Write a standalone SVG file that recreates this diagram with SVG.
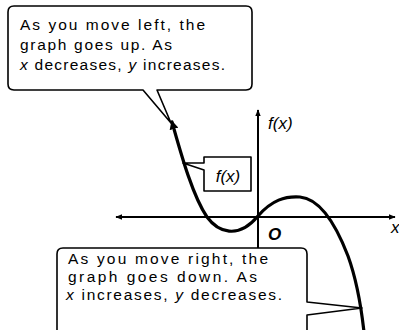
<svg xmlns="http://www.w3.org/2000/svg" width="399" height="330" viewBox="0 0 399 330">
<defs>
<marker id="arr" viewBox="0 0 10 10" refX="9" refY="5" markerWidth="7" markerHeight="7" markerUnits="userSpaceOnUse" orient="auto-start-reverse">
<path d="M0,1 L10,5 L0,9 Z" fill="#000"/>
</marker>
<marker id="arrc" viewBox="0 0 10 10" refX="8" refY="5" markerWidth="9" markerHeight="9" markerUnits="userSpaceOnUse" orient="auto-start-reverse">
<path d="M0,0 L10,5 L0,10 Z" fill="#000"/>
</marker>
<style>
.ax{stroke:#000;stroke-width:2;fill:none}
.box{stroke:#000;stroke-width:1.6;fill:#fff;stroke-linejoin:round}
.crv{stroke:#000;stroke-width:3.2;fill:none;stroke-linecap:round}
.t{font-family:"Liberation Sans","DejaVu Sans",sans-serif;font-size:15.5px;fill:#000}
.i{font-style:italic}
.lbl{font-family:"Liberation Sans","DejaVu Sans",sans-serif;font-style:italic;font-size:17px;fill:#000}
</style>
</defs>
<g id="axes">
<line class="ax" x1="116" y1="217" x2="395" y2="217" marker-start="url(#arr)" marker-end="url(#arr)"/>
<line class="ax" x1="258" y1="248" x2="258" y2="110" marker-end="url(#arr)"/>
<text class="lbl" x="268" y="129">f(x)</text>
<text x="268" y="240" font-family="Liberation Sans,sans-serif" font-weight="bold" font-style="italic" font-size="17" fill="#000">O</text>
<text class="lbl" x="391" y="233">x</text>
</g>
<g id="callout-left">
<path class="box" d="M14,6 H246 Q252,6 252,12 V84 Q252,90 246,90 H157 L171,123 L143,90 H14 Q8,90 8,84 V12 Q8,6 14,6 Z"/>
<text class="t" x="20" y="30" textLength="185" lengthAdjust="spacing">As you move left, the</text>
<text class="t" x="20" y="50" textLength="152" lengthAdjust="spacing">graph goes up. As</text>
<text class="t" x="20" y="70" textLength="205" lengthAdjust="spacing"><tspan class="i">x</tspan> decreases, <tspan class="i">y</tspan> increases.</text>
</g>
<g id="callout-right">
<path class="box" d="M63,248 H301 Q307,248 307,254 V302 L362,308 L307,315 V340 H57 V254 Q57,248 63,248 Z"/>
<text class="t" x="68" y="264" textLength="200" lengthAdjust="spacing">As you move right, the</text>
<text class="t" x="68" y="282" textLength="189" lengthAdjust="spacing">graph goes down. As</text>
<text class="t" x="66" y="300" textLength="216" lengthAdjust="spacing"><tspan class="i">x</tspan> increases, <tspan class="i">y</tspan> decreases.</text>
</g>
<g id="label-fx">
<path class="box" d="M204,157 H251 V191 H204 V170 L183,163 H204 Z"/>
<text class="lbl" x="228" y="182" text-anchor="middle">f(x)</text>
</g>
<g id="curve">
<path class="crv" marker-start="url(#arrc)" d="M172,122 C180,150 192,195 207,217 C218,232 238,240 258,216 C272,200 285,196 300,197 C322,199 338,230 348,256 C356,278 361,305 364,332"/>
</g>
</svg>
